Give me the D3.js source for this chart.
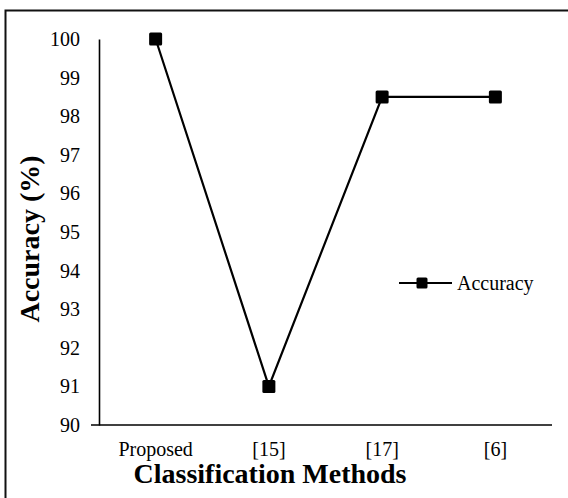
<!DOCTYPE html>
<html>
<head>
<meta charset="utf-8">
<script src="https://cdn.jsdelivr.net/npm/d3@7"></script>
<style>
  body { margin: 0; background: #fff; }
  svg { display: block; }
</style>
</head>
<body>
<div id="chart"></div>
<script>
const methods = ["Proposed", "[15]", "[17]", "[6]"];
const accuracy = [100, 91, 98.5, 98.5];
const yTicks = [90, 91, 92, 93, 94, 95, 96, 97, 98, 99, 100];
const seriesName = "Accuracy";

const width = 568, height = 498;
const margin = { top: 39, right: 16, bottom: 73, left: 99 };
const font = "'Liberation Serif', 'Times New Roman', serif";

const svg = d3.select("#chart").append("svg")
    .attr("width", width)
    .attr("height", height);

// outer frame
svg.append("rect")
    .attr("x", 5.5).attr("y", 10.5)
    .attr("width", 580).attr("height", 500)
    .attr("fill", "none")
    .attr("stroke", "#111")
    .attr("stroke-width", 2);

const x = d3.scaleBand()
    .domain(methods)
    .range([margin.left, width - margin.right]);

const y = d3.scaleLinear()
    .domain([90, 100])
    .range([height - margin.bottom, margin.top]);

// y axis
const yAxis = svg.append("g")
    .attr("transform", `translate(${margin.left},0)`)
    .call(d3.axisLeft(y).tickValues(yTicks).tickSize(0).tickPadding(19));
yAxis.select(".domain").attr("stroke", "#000").attr("stroke-width", 1.6);
yAxis.selectAll("text")
    .style("font-family", font)
    .style("font-size", "20px")
    .attr("fill", "#000");

// x axis
const xAxis = svg.append("g")
    .attr("transform", `translate(0,${y(90)})`)
    .call(d3.axisBottom(x).tickSize(0).tickPadding(17));
xAxis.select(".domain").attr("stroke", "#000").attr("stroke-width", 1.6)
    .attr("d", `M${margin.left - 8},0H${width - margin.right}`);
xAxis.selectAll("text")
    .style("font-family", font)
    .style("font-size", "20px")
    .attr("fill", "#000");

// line
const line = d3.line()
    .x((d, i) => x(methods[i]) + x.bandwidth() / 2)
    .y(d => y(d));

svg.append("path")
    .datum(accuracy)
    .attr("fill", "none")
    .attr("stroke", "#000")
    .attr("stroke-width", 2.2)
    .attr("d", line);

const ms = 13;
svg.append("g")
    .selectAll("rect")
    .data(accuracy)
    .join("rect")
    .attr("x", (d, i) => x(methods[i]) + x.bandwidth() / 2 - ms / 2)
    .attr("y", d => y(d) - ms / 2)
    .attr("width", ms).attr("height", ms)
    .attr("rx", 1.5)
    .attr("fill", "#000");

// axis titles
svg.append("text")
    .attr("transform", `translate(39,239) rotate(-90)`)
    .attr("text-anchor", "middle")
    .style("font-family", font)
    .style("font-size", "28px")
    .style("font-weight", "bold")
    .text("Accuracy (%)");

svg.append("text")
    .attr("x", 270)
    .attr("y", 483)
    .attr("text-anchor", "middle")
    .style("font-family", font)
    .style("font-size", "28px")
    .style("font-weight", "bold")
    .text("Classification Methods");

// legend
const lms = 11;
const lg = svg.append("g").attr("transform", "translate(399,283)");
lg.append("line")
    .attr("x1", 0).attr("x2", 53)
    .attr("stroke", "#000").attr("stroke-width", 2.2);
lg.append("rect")
    .attr("x", 23 - lms / 2).attr("y", -lms / 2)
    .attr("width", lms).attr("height", lms).attr("rx", 1.5)
    .attr("fill", "#000");
lg.append("text")
    .attr("x", 58).attr("y", 7)
    .style("font-family", font)
    .style("font-size", "20px")
    .text(seriesName);
</script>
</body>
</html>
